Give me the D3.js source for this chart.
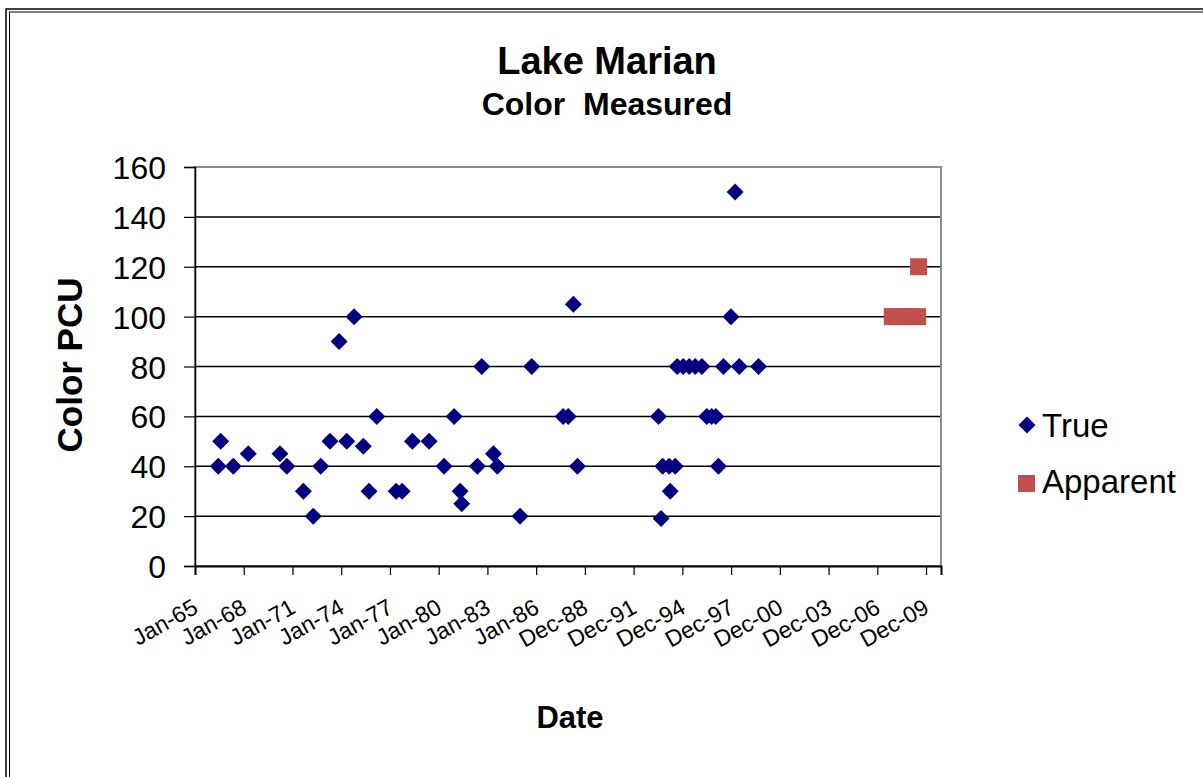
<!DOCTYPE html>
<html>
<head>
<meta charset="utf-8">
<script src="https://cdn.jsdelivr.net/npm/d3@7"></script>
<style>
  body { margin: 0; background: #fff; }
  svg { display: block; font-family: "Liberation Sans", Arial, sans-serif; }
</style>
</head>
<body>
<svg id="chart" width="1203" height="777"></svg>
<script>
// dates as decimal years, values in PCU
const trueYears = [1966.43, 1966.58, 1967.36, 1968.28, 1970.23, 1970.65, 1971.67, 1972.28, 1972.74, 1973.31,
  1973.87, 1974.34, 1974.79, 1975.36, 1975.71, 1976.19, 1977.38, 1977.75, 1978.38, 1979.41,
  1980.33, 1980.95, 1981.32, 1981.42, 1982.38, 1982.65, 1983.37, 1983.61, 1985.01, 1985.73,
  1987.66, 1987.97, 1988.29, 1988.54, 1993.53, 1993.69, 1993.79, 1994.19, 1994.25, 1994.56,
  1994.68, 1995.05, 1995.42, 1995.79, 1996.2, 1996.5, 1996.8, 1997.06, 1997.22, 1997.53,
  1997.99, 1998.25, 1998.5, 1999.69];
const trueValues = [40, 50, 40, 45, 45, 40, 30, 20, 40, 50,
  90, 50, 100, 48, 30, 60, 30, 30, 50, 50,
  40, 60, 30, 25, 40, 80, 45, 40, 20, 80,
  60, 60, 105, 40, 60, 19, 40, 40, 30, 40,
  80, 80, 80, 80, 80, 60, 60, 60, 40, 80,
  100, 150, 80, 80];

const apparentYears = [2007.92, 2008.47, 2008.97, 2009.54, 2009.48];
const apparentValues = [100, 100, 100, 120, 100];

const yTicks = [0, 20, 40, 60, 80, 100, 120, 140, 160];
const xTicks = [1965, 1968, 1971, 1974, 1977, 1980, 1983, 1986, 1989, 1992, 1995, 1998, 2001, 2004, 2007, 2010];
const xTickLabels = ["Jan-65", "Jan-68", "Jan-71", "Jan-74", "Jan-77", "Jan-80", "Jan-83", "Jan-86",
  "Dec-88", "Dec-91", "Dec-94", "Dec-97", "Dec-00", "Dec-03", "Dec-06", "Dec-09"];

const seriesNames = ["True", "Apparent"];
const seriesColors = ["#000080", "#c0504d"];

const svg = d3.select("#chart");
const plot = { left: 195, right: 941, top: 167, bottom: 566 };

// outer double frame (runs off the right and bottom edges)
svg.append("rect").attr("x", 6).attr("y", 9).attr("width", 1300).attr("height", 900)
  .attr("fill", "none").attr("stroke", "#000").attr("stroke-width", 1.5);
svg.append("rect").attr("x", 9.5).attr("y", 12).attr("width", 1300).attr("height", 900)
  .attr("fill", "none").attr("stroke", "#000").attr("stroke-width", 1);

const x = d3.scaleLinear().domain([1965, 2010.92]).range([plot.left, plot.right]);
const y = d3.scaleLinear().domain([0, 160]).range([plot.bottom, plot.top]);

// gridlines
svg.append("g")
  .selectAll("line")
  .data(yTicks.filter(d => d > 0 && d < 160))
  .enter()
  .append("line")
  .attr("x1", plot.left).attr("x2", plot.right)
  .attr("y1", d => y(d)).attr("y2", d => y(d))
  .attr("stroke", "#000").attr("stroke-width", 1.5);

// plot frame
svg.append("rect")
  .attr("x", plot.left).attr("y", plot.top)
  .attr("width", plot.right - plot.left).attr("height", plot.bottom - plot.top)
  .attr("fill", "none").attr("stroke", "#8c8c8c").attr("stroke-width", 2);

// y axis
let yAxis = svg.append("g")
  .attr("transform", `translate(${plot.left},0)`)
  .call(d3.axisLeft(y).tickValues(yTicks).tickSize(11).tickPadding(18));
yAxis.select(".domain").attr("stroke", "#000").attr("stroke-width", 1.5);
yAxis.selectAll(".tick line").attr("stroke", "#000").attr("stroke-width", 1.2);
yAxis.selectAll("text").attr("font-size", "32px").attr("fill", "#000")
  .attr("font-family", "Liberation Sans, Arial, sans-serif").attr("dy", "0.36em");

// x axis
let xAxis = svg.append("g")
  .attr("transform", `translate(0,${plot.bottom})`)
  .call(d3.axisBottom(x).tickValues(xTicks).tickSize(9).tickFormat((d, i) => xTickLabels[i]));
xAxis.select(".domain").attr("stroke", "#000").attr("stroke-width", 2);
xAxis.selectAll(".tick line").attr("stroke", "#000").attr("stroke-width", 1.2);
xAxis.selectAll("text")
  .attr("font-size", "23px").attr("fill", "#000")
  .attr("font-family", "Liberation Sans, Arial, sans-serif")
  .attr("text-anchor", "end")
  .attr("dy", 0)
  .attr("transform", "translate(4,46) rotate(-29)")
  .attr("y", 0).attr("x", 0);

// points
const diamond = "M0,-8.5L8.5,0L0,8.5L-8.5,0Z";
svg.append("g")
  .selectAll("path")
  .data(trueYears.map((d, i) => [d, trueValues[i]]))
  .enter()
  .append("path")
  .attr("d", diamond)
  .attr("transform", d => `translate(${x(d[0])},${y(d[1])})`)
  .attr("fill", seriesColors[0]);

svg.append("g")
  .selectAll("rect")
  .data(apparentYears.map((d, i) => [d, apparentValues[i]]))
  .enter()
  .append("rect")
  .attr("x", d => x(d[0]) - 8.5).attr("y", d => y(d[1]) - 8.5)
  .attr("width", 17).attr("height", 17)
  .attr("fill", seriesColors[1]);

// titles
svg.append("text").attr("x", 607).attr("y", 74).attr("text-anchor", "middle")
  .style("font-size", "38px").style("font-weight", "bold").text("Lake Marian");
svg.append("text").attr("x", 607).attr("y", 115).attr("text-anchor", "middle")
  .style("font-size", "32px").style("font-weight", "bold").style("white-space", "pre")
  .attr("xml:space", "preserve").text("Color  Measured");
svg.append("text").attr("x", 570).attr("y", 728).attr("text-anchor", "middle")
  .style("font-size", "31px").style("font-weight", "bold").text("Date");
svg.append("text").attr("transform", "translate(82,365) rotate(-90)").attr("text-anchor", "middle")
  .style("font-size", "35px").style("font-weight", "bold").text("Color PCU");

// legend
let legend = svg.append("g");
legend.append("path").attr("d", diamond).attr("transform", "translate(1027,425)").attr("fill", seriesColors[0]);
legend.append("rect").attr("x", 1018).attr("y", 475).attr("width", 17).attr("height", 17).attr("fill", seriesColors[1]);
legend.selectAll(".lbl")
  .data(seriesNames)
  .enter()
  .append("text")
  .attr("x", 1042)
  .attr("y", (d, i) => 437 + i * 56)
  .style("font-size", "33px")
  .text(d => d);
</script>
</body>
</html>
